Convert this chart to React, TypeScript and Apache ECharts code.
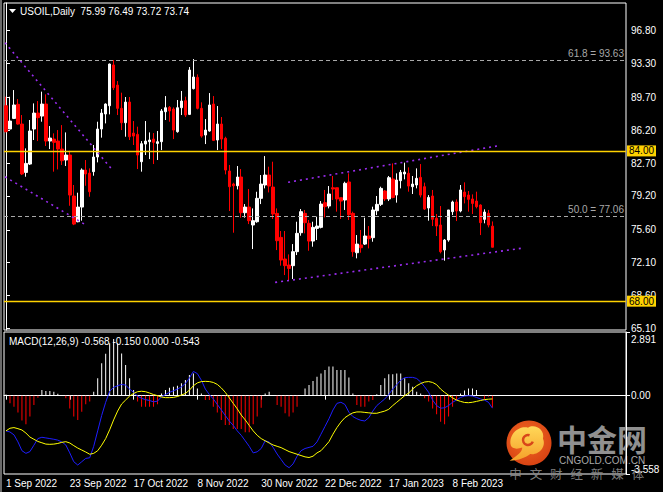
import React, { useEffect, useRef } from 'react';
import * as echarts from 'echarts';

const opens = [88.81,86.33,87.46,88.96,86.86,81.71,82.60,86.33,88.03,87.71,88.99,85.05,85.26,85.05,84.20,83.03,83.56,79.19,76.46,78.02,81.96,81.64,81.79,83.35,86.33,87.93,88.81,93.15,91.01,88.53,87.00,89.20,85.90,85.76,82.85,84.73,84.98,85.26,84.80,84.98,88.17,88.64,88.46,86.05,88.60,89.35,87.89,90.63,91.83,88.53,85.69,86.12,88.99,85.16,86.86,85.34,81.86,80.47,80.29,81.22,77.42,78.02,76.11,76.46,78.95,80.37,81.43,80.15,77.35,74.79,72.49,71.85,71.78,73.27,75.29,77.35,76.29,74.40,75.75,75.86,78.49,78.13,80.08,80.08,79.02,78.77,80.69,77.35,73.16,73.98,74.08,74.94,74.76,77.63,78.31,79.73,78.88,81.01,79.30,80.83,81.54,81.61,80.19,80.37,81.18,80.19,77.92,79.20,76.82,76.11,73.45,74.51,77.53,78.56,77.60,79.62,79.30,78.88,78.66,78.24,76.71,77.35,75.99];
const highs = [89.77,89.77,90.48,89.52,87.82,84.27,87.29,89.06,89.31,90.31,90.02,86.65,85.87,86.22,86.75,85.97,84.02,80.37,79.55,82.14,83.03,82.14,84.63,87.11,88.46,89.06,93.30,93.68,91.44,90.20,89.74,89.74,87.18,86.58,85.05,87.18,85.97,85.90,86.12,88.46,89.84,88.78,88.64,89.42,90.38,89.77,92.93,93.78,92.15,89.17,87.39,90.16,89.84,88.78,87.61,85.51,82.50,80.61,82.39,82.07,78.34,79.94,77.88,79.65,81.43,83.45,82.32,82.85,77.88,75.47,75.47,72.98,74.08,76.46,77.81,77.71,76.64,76.46,77.00,78.66,79.84,80.26,81.33,80.08,79.02,80.72,81.61,77.53,75.04,75.58,76.89,76.00,78.06,79.20,80.19,79.84,81.33,82.67,81.61,81.97,82.75,82.25,81.33,82.14,82.60,80.62,79.30,79.84,77.28,78.13,74.62,77.71,78.70,78.84,80.37,80.65,79.73,79.37,79.66,78.31,77.78,77.71,76.49];
const lows = [85.97,86.33,87.39,86.80,81.43,81.25,82.50,85.16,85.05,87.11,84.52,84.20,81.79,82.03,82.50,82.39,78.16,76.10,76.40,76.57,80.29,79.12,81.36,82.78,85.41,86.93,87.89,90.48,87.82,86.22,85.51,85.16,84.63,82.07,81.79,83.56,83.13,82.60,83.03,84.09,87.29,87.11,85.26,85.94,87.82,87.61,87.82,90.55,88.42,85.41,84.73,86.05,85.05,84.09,84.20,81.50,77.60,75.29,79.90,76.89,76.89,76.21,73.55,76.35,78.34,80.01,79.58,76.75,73.44,71.78,70.78,70.14,70.36,72.91,74.97,75.22,73.37,73.80,74.51,75.75,76.92,77.88,78.77,77.53,76.75,77.71,76.64,72.73,72.56,73.16,73.98,73.62,74.33,77.17,78.13,78.66,78.66,78.95,78.49,80.01,80.97,79.66,79.41,80.01,79.05,77.71,76.57,76.00,74.94,73.09,72.31,74.33,77.17,76.53,77.46,78.41,77.53,77.28,77.88,75.04,76.29,75.86,73.72];
const closes = [86.05,87.18,88.89,86.86,81.54,82.67,86.12,88.03,87.54,88.99,85.05,85.37,84.91,84.20,82.96,83.56,79.30,76.21,78.02,81.96,81.54,79.65,83.35,86.33,88.03,88.99,93.25,90.73,88.53,87.00,89.20,85.51,85.58,83.56,84.77,85.05,85.16,84.91,84.98,88.25,88.60,88.25,86.22,88.60,89.31,87.82,92.61,91.87,88.53,85.58,86.22,88.89,85.12,86.86,85.26,81.96,80.19,80.29,81.22,77.42,78.02,76.57,76.57,78.95,80.47,81.43,80.26,77.28,74.44,72.38,71.78,71.49,73.27,75.22,77.53,76.36,74.40,75.86,76.00,78.34,78.06,79.41,79.94,78.88,78.66,80.55,77.21,73.27,74.08,73.69,74.94,74.65,77.71,78.31,80.01,78.88,81.15,79.05,80.90,81.72,81.75,80.26,80.47,81.08,79.30,77.81,79.05,76.71,76.00,73.27,74.51,77.71,78.56,77.60,79.84,79.13,78.84,78.41,78.06,76.36,77.49,76.11,73.74];

const macdHist = [0.05,-0.35,-0.5,-0.76,-1.13,-1.3,-0.95,-0.42,-0.09,0.26,0.21,0.21,0.18,0.09,0,-0.12,-0.58,-0.95,-1.1,-0.73,-0.39,-0.27,0.18,0.79,1.47,1.9,2.38,2.57,2.38,1.92,1.39,0.79,0.26,-0.27,-0.5,-0.5,-0.5,-0.5,-0.39,0.1,0.26,0.36,0.41,0.45,0.56,0.71,0.94,1.01,0.33,0.1,-0.2,-0.2,-0.5,-0.76,-1.1,-1.33,-1.33,-1.51,-1.51,-1.51,-1.66,-1.66,-1.3,-0.95,-0.55,0.1,0.18,0.03,-0.42,-0.5,-0.8,-0.95,-0.76,-0.5,0,0.33,0.48,0.67,0.86,1.01,1.17,1.32,1.32,1.17,1.17,1.17,0.82,0.1,-0.42,-0.5,-0.5,-0.27,-0.2,0.06,0.48,0.79,0.97,0.97,1.01,1.01,0.79,0.56,0.41,0.18,0.1,-0.12,-0.27,-0.58,-0.85,-1.18,-1.3,-0.95,-0.5,-0.2,0.1,0.23,0.33,0.33,0.26,0.03,-0.15,-0.05,-0.543];
const macdMain = [-1.6,-1.65,-1.78,-2.1,-2.5,-2.62,-2.54,-2.25,-1.95,-1.89,-1.92,-1.95,-1.98,-2.02,-2.1,-2.24,-2.6,-3.0,-3.15,-3.0,-2.85,-2.82,-2.3,-1.6,-0.9,-0.3,0.2,0.38,0.45,0.51,0.48,0.3,0.15,-0.02,-0.12,-0.18,-0.22,-0.28,-0.25,-0.05,0.05,0.15,0.22,0.3,0.4,0.55,0.8,1.1,1.0,0.7,0.3,0.05,-0.15,-0.4,-0.65,-0.9,-1.15,-1.35,-1.6,-1.8,-2.05,-2.3,-2.6,-2.55,-2.4,-2.05,-2.1,-2.35,-2.65,-2.9,-3.15,-3.27,-3.1,-2.75,-2.5,-2.4,-2.35,-2.3,-2.1,-1.75,-1.4,-1.05,-0.65,-0.35,-0.3,-0.4,-0.75,-0.95,-1.05,-1.12,-1.15,-1.0,-0.7,-0.45,-0.3,-0.15,0.05,0.3,0.5,0.7,0.82,0.83,0.83,0.78,0.62,0.4,0.15,-0.2,-0.45,-0.57,-0.55,-0.45,-0.3,-0.2,-0.08,-0.02,0,-0.02,-0.08,-0.15,-0.2,-0.3,-0.568];
const macdSignal = [-1.6,-1.48,-1.45,-1.5,-1.56,-1.7,-1.88,-1.98,-2.08,-2.14,-2.2,-2.21,-2.2,-2.17,-2.12,-2.09,-2.15,-2.27,-2.38,-2.47,-2.56,-2.66,-2.62,-2.5,-2.25,-1.95,-1.55,-1.1,-0.7,-0.38,-0.2,-0.02,0.1,0.18,0.2,0.18,0.12,0.05,0,-0.06,-0.09,-0.09,-0.08,-0.04,0.03,0.1,0.25,0.45,0.58,0.64,0.65,0.64,0.6,0.51,0.35,0.15,-0.1,-0.35,-0.6,-0.88,-1.1,-1.35,-1.6,-1.8,-1.95,-2.05,-2.15,-2.24,-2.3,-2.36,-2.45,-2.54,-2.6,-2.66,-2.72,-2.78,-2.81,-2.75,-2.6,-2.5,-2.3,-2.09,-1.75,-1.45,-1.2,-1.0,-0.88,-0.78,-0.74,-0.74,-0.76,-0.78,-0.8,-0.8,-0.75,-0.7,-0.62,-0.45,-0.3,-0.15,0,0.12,0.3,0.45,0.55,0.62,0.64,0.6,0.5,0.3,0.15,0.02,-0.1,-0.2,-0.26,-0.31,-0.32,-0.3,-0.26,-0.22,-0.18,-0.16,-0.15];

const dateLabels = ['1 Sep 2022','23 Sep 2022','17 Oct 2022','8 Nov 2022','30 Nov 2022','22 Dec 2022','17 Jan 2023','8 Feb 2023'];
const priceTicks = [96.8,93.3,89.7,86.2,82.7,79.2,75.6,72.1,68.6,65.1];
const macdTicks = [2.891,0,-3.558];
const keyLevels = [84.0,68.0];
const fibLevels = [93.63,77.06];
const fibNames = ['61.8','50.0'];
const lastPrice = 73.74;
const trendLines = [
  [[-0.25,95.52],[26.5,82.07]],
  [[-0.25,81.25],[19.75,76.18]],
  [[70.75,80.66],[123.5,84.55]],
  [[67.5,70.0],[129.75,73.66]],
];
const sloganChars = ['中','文','财','经','新','媒','体'];
const SLOTS = 156;
const LABEL_STEP = 16;

const FONT = 'Liberation Sans';

let swirlRegistered = false;
function registerSwirl() {
  if (swirlRegistered) return;
  swirlRegistered = true;
  echarts.graphic.registerShape('cnSwirl', echarts.graphic.extendPath(
    'M -15 3 C -17 -7 -8 -15 0 -13 C 6 -17 15 -11 13 -3 C 16 4 10 12 2 11 C -2 14 -8 17 -16 17 C -9 12 -5 9 -5 5 C -10 7 -14 6 -15 3 Z', {}));
}

export default function App() {
  const ref = useRef<HTMLDivElement>(null);
  useEffect(() => {
    if (!ref.current) return;
    registerSwirl();
    const chart = echarts.init(ref.current, null, { renderer: 'svg' });
    const categories = Array.from({ length: SLOTS }, (_, i) =>
      i % LABEL_STEP === 0 && i / LABEL_STEP < dateLabels.length ? dateLabels[i / LABEL_STEP] : ' ' + i);
    const showIdx = (i: number) => i % LABEL_STEP === 0 && i / LABEL_STEP < dateLabels.length;
    const candles = opens.map((o, i) => [o, closes[i], lows[i], highs[i]]);

    const markLineData: any[] = [];
    keyLevels.forEach((v) => markLineData.push({
      yAxis: v,
      lineStyle: { color: '#ffd200', width: 1.3, type: 'solid', opacity: 1 },
      label: { show: true, position: 'end', formatter: v.toFixed(2), color: '#000', backgroundColor: '#ffd200', padding: [1, 2, 0, 2], distance: 1, fontSize: 10, fontFamily: FONT },
    }));
    fibLevels.forEach((v, k) => markLineData.push({
      yAxis: v,
      lineStyle: { color: '#a8a8a8', width: 1, type: [4, 3] },
      label: { show: true, position: 'insideEndTop', formatter: fibNames[k] + ' = ' + v.toFixed(2), color: '#a8a8a8', fontSize: 10, fontFamily: FONT, distance: 2 },
    }));
    markLineData.push({
      yAxis: lastPrice,
      lineStyle: { opacity: 0, width: 0 },
      label: { show: true, position: 'end', formatter: lastPrice.toFixed(2), color: '#000', backgroundColor: '#fff', padding: [1, 2, 0, 2], distance: 1, fontSize: 10, fontFamily: FONT },
    });

    const option: any = {
      animation: false,
      backgroundColor: '#000',
      grid: [
        { left: 4, top: 3, width: 622, height: 327, show: true, borderColor: '#fff', borderWidth: 1, backgroundColor: 'transparent' },
        { left: 4, top: 332, width: 622, height: 142, show: true, borderColor: '#fff', borderWidth: 1, backgroundColor: 'transparent' },
      ],
      xAxis: [
        { type: 'category', gridIndex: 0, data: categories, boundaryGap: true, axisLine: { show: false }, axisTick: { show: false }, axisLabel: { show: false }, splitLine: { show: false } },
        { type: 'category', gridIndex: 1, data: categories, boundaryGap: true,
          axisLine: { show: true, lineStyle: { color: '#fff' } },
          axisTick: { show: true, alignWithLabel: true, length: 4, interval: (i: number) => showIdx(i), lineStyle: { color: '#fff' } },
          axisLabel: { show: true, interval: (i: number) => showIdx(i), color: '#fff', fontSize: 10, fontFamily: FONT, align: 'left', margin: 4 },
          splitLine: { show: false } },
        { type: 'value', gridIndex: 0, min: -0.5, max: SLOTS - 0.5, show: false },
      ],
      yAxis: [
        { type: 'value', gridIndex: 0, position: 'right', min: 64.93, max: 99.75, scale: true,
          axisLine: { show: true, lineStyle: { color: '#fff' } },
          axisTick: { show: true, length: 4, customValues: priceTicks, lineStyle: { color: '#fff' } },
          axisLabel: { show: true, customValues: priceTicks, formatter: (v: number) => v.toFixed(2), color: '#fff', fontSize: 10, fontFamily: FONT, margin: 5 },
          splitLine: { show: false } },
        { type: 'value', gridIndex: 1, position: 'right', min: -3.558, max: 2.891,
          axisLine: { show: true, lineStyle: { color: '#fff' } },
          axisTick: { show: true, length: 4, customValues: macdTicks, lineStyle: { color: '#fff' } },
          axisLabel: { show: true, customValues: macdTicks, color: '#fff', fontSize: 10, fontFamily: FONT, margin: 5,
            formatter: (v: number) => v > 0.0001 ? '{t|' + v.toFixed(3) + '}' : v < -0.0001 ? '{b|' + v.toFixed(3) + '}' : '0.00',
            rich: { t: { padding: [14, 0, 0, 0], color: '#fff', fontSize: 10, fontFamily: FONT }, b: { padding: [0, 0, 10, 0], color: '#fff', fontSize: 10, fontFamily: FONT } } },
          splitLine: { show: false } },
      ],
      series: [
        { type: 'candlestick', xAxisIndex: 0, yAxisIndex: 0, data: candles, barWidth: 3,
          itemStyle: { color: '#ffffff', color0: '#ff0000', borderColor: '#ffffff', borderColor0: '#ff0000', borderWidth: 1 },
          markLine: { silent: true, symbol: ['none', 'none'], lineStyle: { color: '#ffd200' }, data: markLineData, animation: false, z: 6 } },
        ...trendLines.map((pts) => ({
          type: 'line', xAxisIndex: 2, yAxisIndex: 0, data: pts, symbol: 'none', silent: true,
          lineStyle: { color: '#9a2cf0', width: 1.6, type: [2, 4] },
        })),
        { type: 'bar', xAxisIndex: 1, yAxisIndex: 1, barWidth: 1,
          data: macdHist.map((v) => ({ value: v, itemStyle: { color: v >= 0 ? '#ffffff' : '#ff0000' } })) },
        { type: 'line', xAxisIndex: 1, yAxisIndex: 1, data: macdMain, symbol: 'none', lineStyle: { color: '#1e1eff', width: 1 } },
        { type: 'line', xAxisIndex: 1, yAxisIndex: 1, data: macdSignal, symbol: 'none', lineStyle: { color: '#ffff00', width: 1 } },
      ],
      graphic: [
        { type: 'rect', left: 0, top: 0, shape: { width: 2, height: 492 }, style: { fill: '#6a6a6a' }, z: 10 },
        { type: 'polygon', shape: { points: [[9, 9], [16, 9], [12.5, 13]] }, style: { fill: '#fff' }, z: 10 },
        { type: 'text', left: 20, top: 6, style: { text: 'USOIL,Daily  75.99 76.49 73.72 73.74', fill: '#fff', fontSize: 10, fontFamily: FONT }, z: 10 },
        { type: 'text', left: 9, top: 336, style: { text: 'MACD(12,26,9) -0.568 -0.150 0.000 -0.543', fill: '#fff', fontSize: 10, fontFamily: FONT }, z: 10 },
        { type: 'group', z: 20, children: [
          { type: 'circle', shape: { cx: 529, cy: 443, r: 22.5 }, style: { fill: new echarts.graphic.RadialGradient(0.45, 0.4, 0.75, [{ offset: 0, color: '#f26a22' }, { offset: 1, color: '#d23a10' }]) } },
          { type: 'cnSwirl', x: 528, y: 442, scaleX: 1.15, scaleY: 1.1, style: { fill: new echarts.graphic.LinearGradient(0, 0, 0, 1, [{ offset: 0, color: '#ffd858' }, { offset: 1, color: '#f5a02a' }]) } },
          { type: 'arc', shape: { cx: 528, cy: 440, r: 5, startAngle: Math.PI * 0.1, endAngle: Math.PI * 1.6 }, style: { stroke: '#d8461a', lineWidth: 2.5, fill: 'none' } },
          { type: 'text', x: 557, y: 438, style: { text: '中金网', fill: '#909090', fontSize: 30, fontWeight: 'bold', fontFamily: 'Noto Sans CJK SC', verticalAlign: 'middle' } },
          { type: 'text', x: 559, y: 460, style: { text: 'CNGOLD.COM.CN', fill: '#a8a8a8', fontSize: 10, fontFamily: FONT, verticalAlign: 'middle' } },
          ...sloganChars.map((ch, k) => ({ type: 'text', x: 515.5 + k * 20.4, y: 473.5, style: { text: ch, fill: '#8c8c8c', fontSize: 12.5, fontFamily: 'Noto Sans CJK SC', align: 'center', verticalAlign: 'middle', opacity: 0.9 } })),
        ] },
      ],
    };
    chart.setOption(option);
    return () => chart.dispose();
  }, []);
  return <div ref={ref} style={{ position: 'fixed', left: 0, top: 0, width: 663, height: 492, background: '#000' }} />;
}
